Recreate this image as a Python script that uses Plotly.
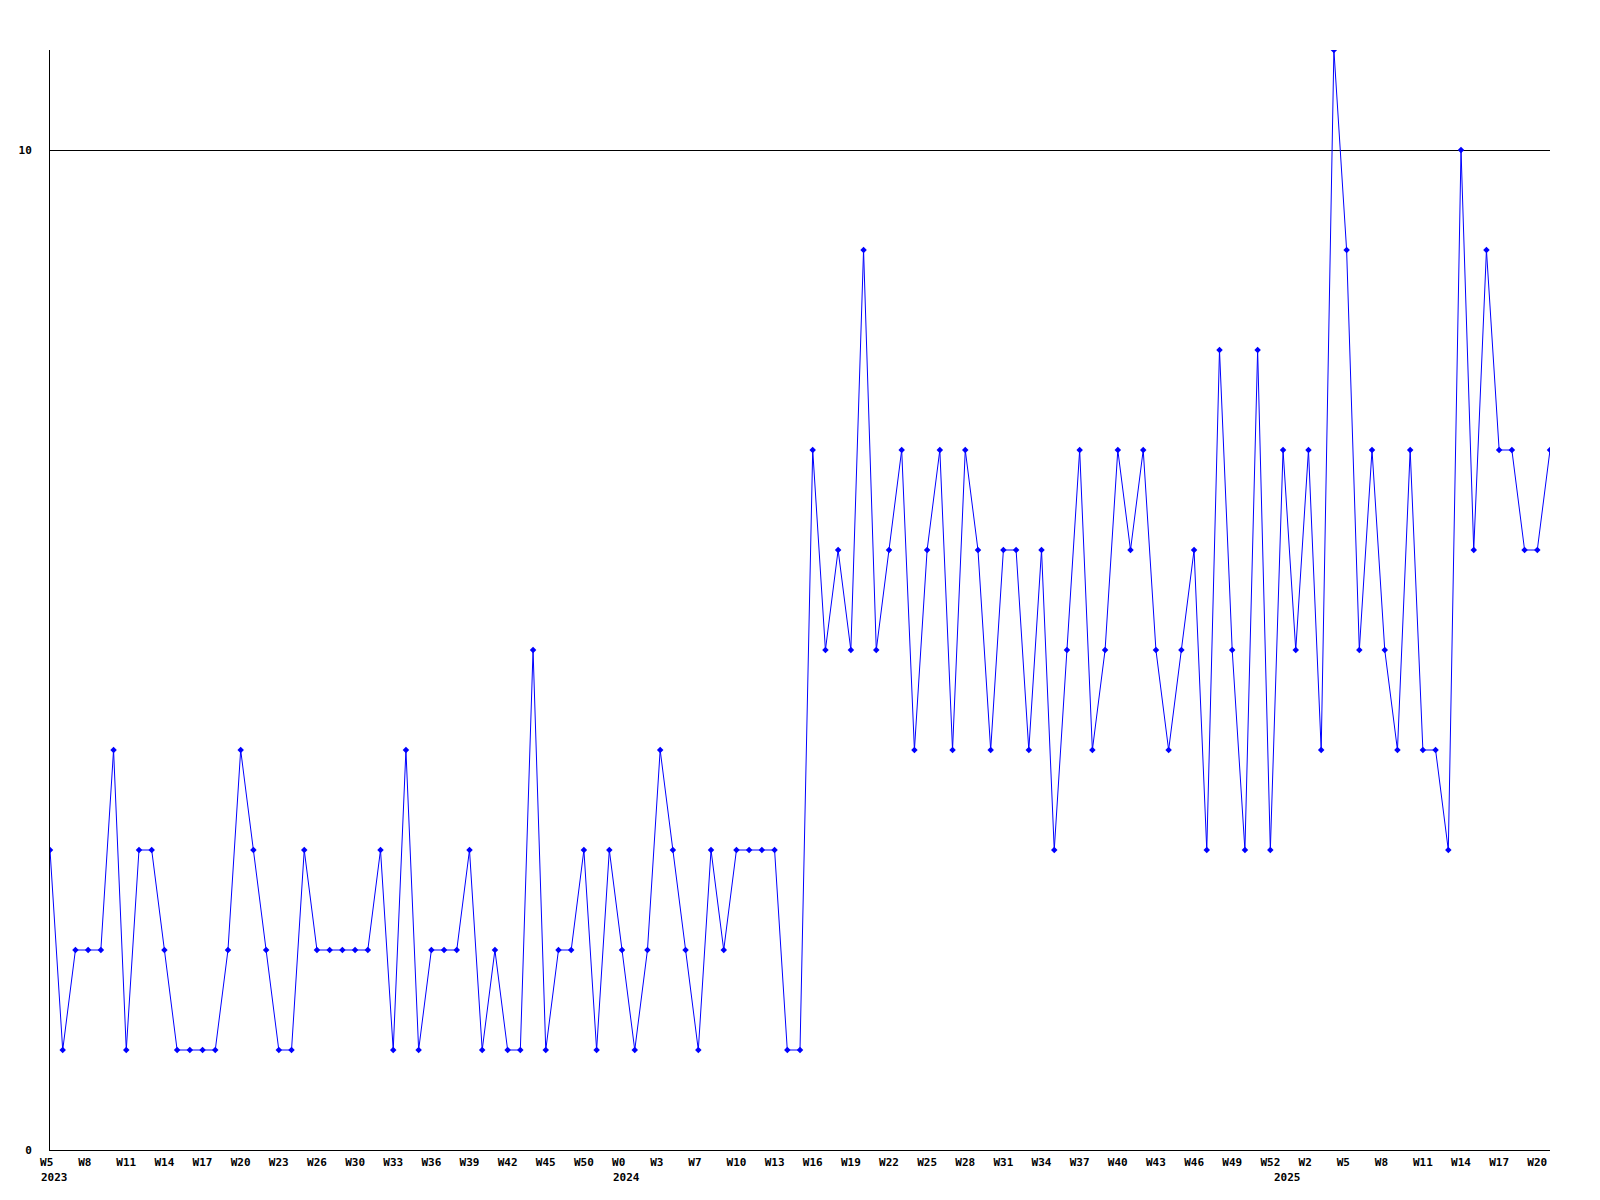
import plotly.graph_objects as go

# Weekly values (119 weeks, 2023 W5 .. 2025 W21)
values = [
    3, 1, 2, 2, 2, 4, 1, 3, 3, 2,
    1, 1, 1, 1, 2, 4, 3, 2, 1, 1,
    3, 2, 2, 2, 2, 2, 3, 1, 4, 1,
    2, 2, 2, 3, 1, 2, 1, 1, 5, 1,
    2, 2, 3, 1, 3, 2, 1, 2, 4, 3,
    2, 1, 3, 2, 3, 3, 3, 3, 1, 1,
    7, 5, 6, 5, 9, 5, 6, 7, 4, 6,
    7, 4, 7, 6, 4, 6, 6, 4, 6, 3,
    5, 7, 4, 5, 7, 6, 7, 5, 4, 5,
    6, 3, 8, 5, 3, 8, 3, 7, 5, 7,
    4, 11, 9, 5, 7, 5, 4, 7, 4, 4,
    3, 10, 6, 9, 7, 7, 6, 6, 7,
]

# Tick labels (every third week) as printed on the reference
week_labels = [
    "W5", "W8", "W11", "W14", "W17", "W20", "W23", "W26", "W30", "W33",
    "W36", "W39", "W42", "W45", "W50", "W0", "W3", "W7", "W10", "W13",
    "W16", "W19", "W22", "W25", "W28", "W31", "W34", "W37", "W40", "W43",
    "W46", "W49", "W52", "W2", "W5", "W8", "W11", "W14", "W17", "W20",
]
label_step = 3

year_labels = ["2023", "2024", "2025"]
year_index = [0, 45, 97]

y_ticks = [0, 10]

x = list(range(len(values)))
tick_vals = [i * label_step for i in range(len(week_labels))]
# pad short labels so they sit like the left-aligned originals
tick_text = [lbl + "\u00a0" * (3 - len(lbl)) for lbl in week_labels]

font_family = "DejaVu Sans Mono"

fig = go.Figure()
fig.add_trace(go.Scatter(
    x=x, y=values, mode="lines+markers",
    line=dict(color="#0000ff", width=1),
    marker=dict(symbol="diamond", size=5, color="#0000ff"),
    hoverinfo="x+y", showlegend=False,
))

for lbl, idx in zip(year_labels, year_index):
    fig.add_annotation(
        x=idx, y=0, xref="x", yref="paper",
        text=lbl, showarrow=False,
        xanchor="left", yanchor="top",
        xshift=-11, yshift=-19,
        font=dict(family=font_family, size=11, color="black", weight="bold"),
    )

fig.update_layout(
    width=1600, height=1200, autosize=False,
    margin=dict(l=50, r=50, t=50, b=50),
    paper_bgcolor="white", plot_bgcolor="white",
    xaxis=dict(
        range=[0, len(values) - 1],
        tickmode="array", tickvals=tick_vals, ticktext=tick_text,
        tickangle=0, showgrid=False, zeroline=False,
        showline=True, linecolor="black", linewidth=1,
        ticks="", ticklabelstandoff=2,
        tickfont=dict(family=font_family, size=11, color="black", weight="bold"),
    ),
    yaxis=dict(
        range=[0, 11],
        tickmode="array", tickvals=y_ticks, ticktext=[str(v) for v in y_ticks],
        showgrid=True, gridcolor="black", gridwidth=1, zeroline=False,
        showline=True, linecolor="black", linewidth=1,
        ticks="", ticklabelstandoff=15,
        tickfont=dict(family=font_family, size=11, color="black", weight="bold"),
    ),
)

fig.write_html("out.html", config={"displayModeBar": False},
               post_script="document.body.style.margin='0';")
